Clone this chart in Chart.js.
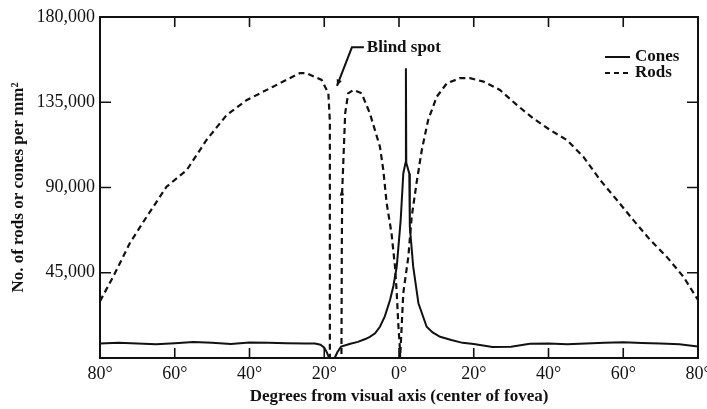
<!DOCTYPE html>
<html>
<head>
<meta charset="utf-8">
<script src="https://cdn.jsdelivr.net/npm/chart.js@4.4.0/dist/chart.umd.min.js"></script>
<style>
  html, body { margin: 0; padding: 0; background: #fff; }
</style>
</head>
<body>
<canvas id="chart" width="707" height="409"></canvas>
<script>
// Axis ticks
const xTicks = [-80, -60, -40, -20, 0, 20, 40, 60, 80];
const yTicks = [0, 45000, 90000, 135000, 180000];

// Rods (dashed) - degrees from visual axis / density per mm2
const rodsDeg = [-80, -76.5, -72, -67.5, -62.2, -56.8, -51.5, -46.1, -40.7, -33.7, -26.5, -24.7, -20.7, -18.9, -18.5, -18.5,
  -15.4, -15.3, -15.2, -14.4, -13.6, -12.2, -10, -7.8, -5.1, -4.2, -3.3, -2, -1.07, -0.6, -0.2, 0.27, 0.3,
  1.15, 2.5, 3.4, 4.7, 6.1, 7.8, 10.1, 12.8, 16.3, 19, 22.6, 27, 31.5, 35.9, 40.4, 44.9, 49.3, 53.8, 58.3,
  62.7, 67.2, 71.6, 76.1, 80];
const rodsVal = [30000, 42800, 60700, 74600, 90400, 99200, 115100, 128300, 136200, 143200, 150400, 150300, 146800, 139700, 125000, 0,
  0, 60000, 88000, 129200, 139700, 141500, 139700, 129200, 111500, 99200, 81700, 65800, 48200, 34200, 18300, 4200, 0,
  34300, 53500, 74600, 92400, 109800, 125600, 137900, 145000, 147700, 147700, 145900, 141500, 133600, 126500, 120400, 115100, 106300, 94000, 83400,
  72800, 62300, 53500, 42900, 30600];

// Cones (solid)
const conesDeg = [-80, -75, -70, -65, -60, -55, -50, -45, -40, -35, -30, -25, -22.5, -21, -20, -19.3, -18.7, -17.2, -16.5, -15.5,
  -13, -11, -9, -7.8, -6.4, -5.1, -3.8, -2.4, -1.5, -0.6, 0.45, 1.15, 1.75, 1.85, 1.95, 2.75, 2.9, 3.8, 5.2, 7.4, 9, 11, 14, 17, 20,
  25, 30, 35, 40, 45, 50, 55, 60, 65, 70, 75, 80];
const conesVal = [7600, 8000, 7600, 7200, 7800, 8500, 8000, 7400, 8200, 8000, 7800, 7700, 7600, 7000, 5500, 3000, 0, 0, 3000, 6000,
  7500, 8500, 10000, 11200, 13000, 16500, 22000, 30600, 38000, 48200, 72800, 97400, 103000, 153000, 103000, 97400, 69300, 48200, 28900, 16500, 13500, 11200, 9500, 8000, 7400,
  5800, 6000, 7500, 7600, 7200, 7600, 8000, 8300, 7900, 7600, 7300, 6000];

const SERIF = '"Liberation Serif", "Times New Roman", serif';
const INK = '#111';

function toPoints(xs, ys) {
  return xs.map((x, i) => ({ x: x, y: ys[i] }));
}

// frame, inward ticks, legend and the blind spot note
const decorations = {
  id: 'decorations',
  afterDatasetsDraw(chart) {
    const { ctx, chartArea: a, scales: { x, y } } = chart;
    ctx.save();
    ctx.strokeStyle = INK;
    ctx.fillStyle = INK;
    ctx.lineWidth = 2;
    ctx.setLineDash([]);
    ctx.strokeRect(a.left, a.top, a.right - a.left, a.bottom - a.top);

    ctx.lineWidth = 1.6;
    ctx.beginPath();
    xTicks.slice(1, -1).forEach(v => {
      const px = x.getPixelForValue(v);
      ctx.moveTo(px, a.bottom); ctx.lineTo(px, a.bottom - 10);
      ctx.moveTo(px, a.top); ctx.lineTo(px, a.top + 10);
    });
    yTicks.slice(1, -1).forEach(v => {
      const py = y.getPixelForValue(v);
      ctx.moveTo(a.left, py); ctx.lineTo(a.left + 11, py);
      ctx.moveTo(a.right, py); ctx.lineTo(a.right - 11, py);
    });
    ctx.stroke();

    // legend
    const lx = a.right - 93, ly = a.top + 40;
    ctx.lineWidth = 2;
    ctx.beginPath();
    ctx.moveTo(lx, ly); ctx.lineTo(lx + 25, ly);
    ctx.stroke();
    ctx.setLineDash([5, 4]);
    ctx.beginPath();
    ctx.moveTo(lx, ly + 16); ctx.lineTo(lx + 25, ly + 16);
    ctx.stroke();
    ctx.setLineDash([]);
    ctx.font = 'bold 17px ' + SERIF;
    ctx.textBaseline = 'middle';
    ctx.textAlign = 'left';
    ctx.fillText('Cones', lx + 30, ly);
    ctx.fillText('Rods', lx + 30, ly + 16);

    // blind spot label with leader
    const tx = x.getPixelForValue(-8.6), ty = y.getPixelForValue(164000);
    ctx.fillText('Blind spot', tx, ty);
    const p1 = [x.getPixelForValue(-9.4), ty];
    const p2 = [x.getPixelForValue(-12.6), ty];
    const p3 = [x.getPixelForValue(-16.6), y.getPixelForValue(143600)];
    ctx.lineWidth = 2;
    ctx.beginPath();
    ctx.moveTo(p1[0], p1[1]); ctx.lineTo(p2[0], p2[1]); ctx.lineTo(p3[0], p3[1]);
    ctx.stroke();
    arrowHead(ctx, p2, p3, 7);
    // small arrow on the rising rod line
    const q = [x.getPixelForValue(-15.4), y.getPixelForValue(88700)];
    arrowHead(ctx, [q[0] + 1, q[1] + 10], q, 6);
    ctx.restore();
  }
};

function arrowHead(ctx, from, to, size) {
  const ang = Math.atan2(to[1] - from[1], to[0] - from[0]);
  ctx.beginPath();
  ctx.moveTo(to[0], to[1]);
  ctx.lineTo(to[0] - size * Math.cos(ang - 0.4), to[1] - size * Math.sin(ang - 0.4));
  ctx.lineTo(to[0] - size * Math.cos(ang + 0.4), to[1] - size * Math.sin(ang + 0.4));
  ctx.closePath();
  ctx.fill();
}

new Chart(document.getElementById('chart'), {
  type: 'line',
  data: {
    datasets: [
      {
        label: 'Cones',
        data: toPoints(conesDeg, conesVal),
        borderColor: INK,
        borderWidth: 2,
        pointRadius: 0,
        fill: false
      },
      {
        label: 'Rods',
        data: toPoints(rodsDeg, rodsVal),
        borderColor: INK,
        borderWidth: 2.2,
        borderDash: [6, 4],
        pointRadius: 0,
        fill: false
      }
    ]
  },
  options: {
    responsive: false,
    animation: false,
    devicePixelRatio: 1,
    layout: { padding: { top: 17, right: 9, left: 0, bottom: 0 } },
    plugins: {
      legend: { display: false },
      tooltip: { enabled: false }
    },
    scales: {
      x: {
        type: 'linear',
        min: -80,
        max: 80,
        afterBuildTicks: s => { s.ticks = xTicks.map(v => ({ value: v })); },
        afterFit: s => { s.height = 51; s.paddingLeft = 0; s.paddingRight = 0; },
        grid: { display: false, drawTicks: false },
        border: { display: false },
        ticks: {
          autoSkip: false,
          maxRotation: 0,
          padding: 5,
          color: INK,
          font: { family: SERIF, size: 18 },
          callback: v => Math.abs(v) + '°'
        },
        title: {
          display: true,
          text: 'Degrees from visual axis (center of fovea)',
          color: INK,
          font: { family: SERIF, size: 17, weight: 'bold' },
          padding: { top: 0, bottom: 2 }
        }
      },
      y: {
        min: 0,
        max: 180000,
        afterBuildTicks: s => { s.ticks = yTicks.map(v => ({ value: v })); },
        afterFit: s => { s.width = 100; s.paddingTop = 0; s.paddingBottom = 0; },
        grid: { display: false, drawTicks: false },
        border: { display: false },
        ticks: {
          padding: 5,
          color: INK,
          font: { family: SERIF, size: 18 },
          callback: v => v === 0 ? '' : v.toLocaleString('en-US')
        },
        title: {
          display: true,
          text: 'No. of rods or cones per mm²',
          color: INK,
          font: { family: SERIF, size: 17, weight: 'bold' },
          padding: { top: 8, bottom: 0 }
        }
      }
    }
  },
  plugins: [decorations]
});
</script>
</body>
</html>
